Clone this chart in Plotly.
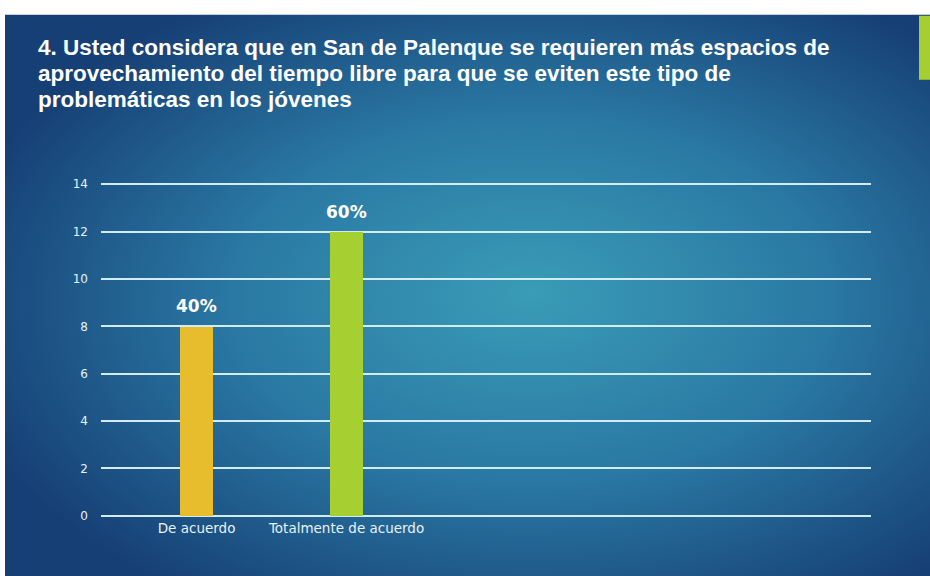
import base64
import plotly.graph_objects as go

# datos de la encuesta
categorias = ["De acuerdo", "Totalmente de acuerdo"]
valores = [8, 12]
porcentajes = ["40%", "60%"]
colores = ["#E8BD2D", "#A6D031"]

lineas_titulo = [
    "4. Usted considera que en San de Palenque se requieren más espacios de",
    "aprovechamiento del tiempo libre para que se eviten este tipo de",
    "problemáticas en los jóvenes",
]

W, H = 930, 576

# fondo degradado tipo diapositiva
svg = """<svg xmlns="http://www.w3.org/2000/svg" width="930" height="576" viewBox="0 0 930 576" preserveAspectRatio="none">
<defs><radialGradient id="g" cx="0.56" cy="0.52" r="0.62" fx="0.56" fy="0.5">
<stop offset="0" stop-color="#3A9CB6"/>
<stop offset="0.5" stop-color="#2A79A4"/>
<stop offset="1" stop-color="#163F75"/>
</radialGradient></defs>
<rect width="930" height="576" fill="url(#g)"/></svg>"""
fondo = "data:image/svg+xml;base64," + base64.b64encode(svg.encode()).decode()

fig = go.Figure()
fig.add_trace(go.Bar(
    x=categorias, y=valores,
    marker=dict(color=colores, line=dict(width=0)),
    width=0.22,
    hoverinfo="x+y",
))

# etiquetas de porcentaje sobre cada barra
for c, v, p in zip(categorias, valores, porcentajes):
    fig.add_annotation(x=c, y=v, text="<b>%s</b>" % p, showarrow=False,
                       yanchor="bottom", yshift=8,
                       font=dict(family="DejaVu Sans", size=17, color="white"))

# titulo, una linea por anotacion para controlar el interlineado
for i, linea in enumerate(lineas_titulo):
    fig.add_annotation(xref="paper", yref="paper", x=36 / W, y=1 - (44 + 26.5 * i) / H,
                       xanchor="left", yanchor="middle", showarrow=False,
                       text="<b>%s</b>" % linea,
                       font=dict(family="Liberation Sans", size=22.5, color="white"))

fig.add_layout_image(source=fondo, xref="paper", yref="paper",
                     x=0, y=1, sizex=1.02, sizey=1.02,
                     xanchor="left", yanchor="top", sizing="stretch", layer="below")

# franjas blancas arriba e izquierda
fig.add_shape(type="rect", xref="paper", yref="paper", x0=-0.01, x1=1.01,
              y0=1 - 11 / H, y1=1.01, fillcolor="white", line=dict(width=0))
fig.add_shape(type="rect", xref="paper", yref="paper", x0=-0.01, x1=5 / W,
              y0=-0.01, y1=1.01, fillcolor="white", line=dict(width=0))

# barra verde decorativa arriba a la derecha
fig.add_shape(type="rect", xref="paper", yref="paper",
              x0=919 / W, x1=1.01, y0=1 - 77 / H, y1=1 - 12 / H,
              fillcolor="#A5CF30", line=dict(width=0))

fig.update_layout(
    width=W, height=H,
    margin=dict(l=0, r=0, t=0, b=0),
    paper_bgcolor="#163F75", plot_bgcolor="rgba(0,0,0,0)",
    showlegend=False,
    bargap=0,
    xaxis=dict(domain=[101 / W, 871 / W], range=[-0.637, 4.497],
               showgrid=False, zeroline=False, showline=False, ticks="",
               tickfont=dict(family="DejaVu Sans", size=13.5, color="#E6F2F8")),
    yaxis=dict(domain=[1 - 522.4 / H, 1 - 180.6 / H], range=[-0.1, 14.1],
               tickvals=[0, 2, 4, 6, 8, 10, 12, 14],
               showgrid=True, gridcolor="#D3ECF3", gridwidth=2,
               zeroline=False, showline=False, ticks="",
               ticklabelstandoff=12,
               tickfont=dict(family="DejaVu Sans", size=12, color="#E6F2F8")),
)

fig.write_html("out.html", config={"displayModeBar": False},
               post_script=("document.body.style.margin='0';"
                            "document.body.style.background='#163F75';"
                            "document.documentElement.style.background='#163F75';"
                            "document.documentElement.style.overflow='hidden';"))
